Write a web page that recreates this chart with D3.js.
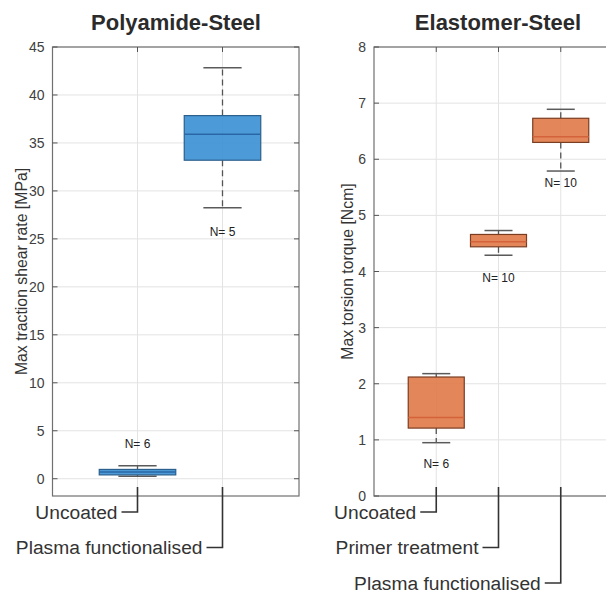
<!DOCTYPE html>
<html>
<head>
<meta charset="utf-8">
<script src="https://cdn.jsdelivr.net/npm/d3@7"></script>
<style>
  body { margin: 0; background: #fff; }
  text { font-family: "Liberation Sans", Arial, sans-serif; }
</style>
</head>
<body>
<svg id="chart" width="606" height="592"></svg>
<script>
// left panel data
const leftTitle = "Polyamide-Steel";
const leftYLabel = "Max traction shear rate [MPa]";
const leftCats = ["Uncoated", "Plasma functionalised"];
const leftLow = [0.25, 28.25];
const leftQ1 = [0.4, 33.2];
const leftMed = [0.7, 35.9];
const leftQ3 = [0.97, 37.85];
const leftHigh = [1.36, 42.85];
const leftN = [6, 5];
const leftNPos = [3.6, 25.7];
const leftTicks = [0, 5, 10, 15, 20, 25, 30, 35, 40, 45];

// right panel data
const rightTitle = "Elastomer-Steel";
const rightYLabel = "Max torsion torque [Ncm]";
const rightCats = ["Uncoated", "Primer treatment", "Plasma functionalised"];
const rightLow = [0.95, 4.29, 5.79];
const rightQ1 = [1.21, 4.44, 6.30];
const rightMed = [1.40, 4.53, 6.40];
const rightQ3 = [2.12, 4.66, 6.73];
const rightHigh = [2.18, 4.73, 6.89];
const rightN = [6, 10, 10];
const rightNPos = [0.57, 3.88, 5.58];
const rightTicks = [0, 1, 2, 3, 4, 5, 6, 7, 8];

const svg = d3.select("#chart");
const plotTop = 47, plotBottom = 496;

function drawPanel(p) {
  const x = d3.scaleLinear().domain(p.xDomain).range(p.xRange);
  const y = d3.scaleLinear().domain(p.yDomain).range([plotBottom, plotTop]);
  const g = svg.append("g");
  const pos = p.cats.map((c, i) => i + 1);

  // grid
  g.selectAll(".hg").data(p.ticks).enter().append("line")
    .attr("x1", p.xRange[0]).attr("x2", p.xRange[1])
    .attr("y1", d => y(d)).attr("y2", d => y(d))
    .attr("stroke", "#e3e3e3").attr("stroke-width", 1);
  g.selectAll(".vg").data(pos).enter().append("line")
    .attr("x1", d => x(d)).attr("x2", d => x(d))
    .attr("y1", plotTop).attr("y2", plotBottom)
    .attr("stroke", "#e3e3e3").attr("stroke-width", 1);

  // boxes
  const bw = 0.9;
  const boxes = g.selectAll(".box").data(pos).enter().append("g");
  // whiskers
  boxes.append("line")
    .attr("x1", d => x(d)).attr("x2", d => x(d))
    .attr("y1", (d, i) => y(p.q3[i])).attr("y2", (d, i) => y(p.high[i]))
    .attr("stroke", "#555").attr("stroke-width", 1.3).attr("stroke-dasharray", "6,4");
  boxes.append("line")
    .attr("x1", d => x(d)).attr("x2", d => x(d))
    .attr("y1", (d, i) => y(p.q1[i])).attr("y2", (d, i) => y(p.low[i]))
    .attr("stroke", "#555").attr("stroke-width", 1.3).attr("stroke-dasharray", "6,4");
  [p.high, p.low].forEach(arr => {
    boxes.append("line")
      .attr("x1", d => x(d - bw / 4)).attr("x2", d => x(d + bw / 4))
      .attr("y1", (d, i) => y(arr[i])).attr("y2", (d, i) => y(arr[i]))
      .attr("stroke", "#5a5a5a").attr("stroke-width", 1.5);
  });
  boxes.append("rect")
    .attr("x", d => x(d - bw / 2))
    .attr("width", d => x(d + bw / 2) - x(d - bw / 2))
    .attr("y", (d, i) => y(p.q3[i]))
    .attr("height", (d, i) => y(p.q1[i]) - y(p.q3[i]))
    .attr("fill", p.fill).attr("fill-opacity", 0.9)
    .attr("stroke", p.stroke).attr("stroke-width", 1.2);
  boxes.append("line")
    .attr("x1", d => x(d - bw / 2)).attr("x2", d => x(d + bw / 2))
    .attr("y1", (d, i) => y(p.med[i])).attr("y2", (d, i) => y(p.med[i]))
    .attr("stroke", p.medColor).attr("stroke-width", 1.5);

  // N labels
  g.selectAll(".n").data(pos).enter().append("text")
    .attr("x", d => x(d)).attr("y", (d, i) => y(p.nPos[i]))
    .attr("text-anchor", "middle").attr("dominant-baseline", "central")
    .attr("font-size", "12px").attr("fill", "#222")
    .text((d, i) => "N= " + p.n[i]);

  // frame
  g.append("rect")
    .attr("x", p.xRange[0]).attr("y", plotTop)
    .attr("width", p.xRange[1] - p.xRange[0]).attr("height", plotBottom - plotTop)
    .attr("fill", "none").attr("stroke", "#707070").attr("stroke-width", 1.2);

  // ticks (inward)
  const tl = 5;
  g.selectAll(".yt").data(p.ticks).enter().append("line")
    .attr("x1", p.xRange[0]).attr("x2", p.xRange[0] + tl)
    .attr("y1", d => y(d)).attr("y2", d => y(d))
    .attr("stroke", "#555");
  g.selectAll(".yt2").data(p.ticks).enter().append("line")
    .attr("x1", p.xRange[1]).attr("x2", p.xRange[1] - tl)
    .attr("y1", d => y(d)).attr("y2", d => y(d))
    .attr("stroke", "#555");
  g.selectAll(".xt").data(pos).enter().append("line")
    .attr("x1", d => x(d)).attr("x2", d => x(d))
    .attr("y1", plotTop).attr("y2", plotTop + tl)
    .attr("stroke", "#555");

  // y tick labels
  g.selectAll(".yl").data(p.ticks).enter().append("text")
    .attr("x", p.xRange[0] - 8).attr("y", d => y(d))
    .attr("text-anchor", "end").attr("dominant-baseline", "central")
    .attr("font-size", "14px").attr("fill", "#404040")
    .text(d => d);

  // y label
  g.append("text")
    .attr("transform", `translate(${p.yLabelX},${(plotTop + plotBottom) / 2}) rotate(-90)`)
    .attr("text-anchor", "middle").attr("dominant-baseline", "central")
    .attr("font-size", "15.8px").attr("fill", "#333")
    .text(p.yLabel);

  // title
  g.append("text")
    .attr("x", p.titleX).attr("y", 30)
    .attr("text-anchor", "middle")
    .attr("font-size", "22px").attr("font-weight", "bold").attr("fill", "#2b2b2b")
    .text(p.title);

  // category callouts
  const rowY = i => 512 + 35.5 * i;
  g.selectAll(".cl").data(pos).enter().append("path")
    .attr("d", (d, i) => `M${x(d)},${plotBottom - 9}V${rowY(i)}H${x(d) - 16}`)
    .attr("fill", "none").attr("stroke", "#333").attr("stroke-width", 1.6);
  g.selectAll(".ct").data(pos).enter().append("text")
    .attr("x", d => x(d) - 20).attr("y", (d, i) => rowY(i))
    .attr("text-anchor", "end").attr("dominant-baseline", "central")
    .attr("font-size", "19.2px").attr("fill", "#333")
    .text((d, i) => p.cats[i]);
}

drawPanel({
  title: leftTitle, titleX: 176, yLabel: leftYLabel, yLabelX: 21,
  cats: leftCats, low: leftLow, q1: leftQ1, med: leftMed, q3: leftQ3, high: leftHigh,
  n: leftN, nPos: leftNPos, ticks: leftTicks,
  xDomain: [0, 2.9], xRange: [52.5, 299], yDomain: [-1.8, 45],
  fill: "#3a8fd4", stroke: "#2b5f8c", medColor: "#2a67a6"
});

drawPanel({
  title: rightTitle, titleX: 498, yLabel: rightYLabel, yLabelX: 347,
  cats: rightCats, low: rightLow, q1: rightQ1, med: rightMed, q3: rightQ3, high: rightHigh,
  n: rightN, nPos: rightNPos, ticks: rightTicks,
  xDomain: [0, 4], xRange: [374, 623], yDomain: [0, 8],
  fill: "#e07a48", stroke: "#7a3d22", medColor: "#d4623a"
});
</script>
</body>
</html>
